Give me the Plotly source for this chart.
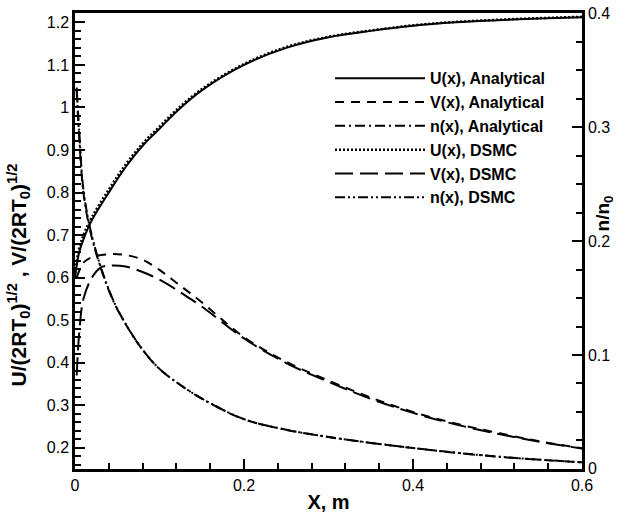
import plotly.graph_objects as go

# ---------------- data ----------------
x_U = [0.0, 0.005, 0.01, 0.02, 0.04, 0.06, 0.08, 0.10, 0.12, 0.15, 0.20, 0.25, 0.30, 0.35, 0.40, 0.45, 0.50, 0.55, 0.60]
U_an = [0.60, 0.66, 0.69, 0.735, 0.80, 0.86, 0.91, 0.95, 0.99, 1.04, 1.10, 1.14, 1.165, 1.18, 1.192, 1.200, 1.205, 1.209, 1.212]
U_ds = [0.61, 0.67, 0.70, 0.742, 0.807, 0.866, 0.915, 0.955, 0.994, 1.043, 1.102, 1.142, 1.166, 1.181, 1.193, 1.201, 1.206, 1.210, 1.213]

x_V_an = [0.002, 0.01, 0.02, 0.04, 0.06, 0.08, 0.10, 0.12, 0.15, 0.20, 0.25, 0.30, 0.35, 0.40, 0.45, 0.50, 0.55, 0.60]
V_an = [0.60, 0.635, 0.648, 0.655, 0.653, 0.642, 0.618, 0.588, 0.542, 0.46, 0.402, 0.358, 0.318, 0.284, 0.257, 0.235, 0.215, 0.199]
x_V_ds = [0.002, 0.005, 0.01, 0.02, 0.03, 0.04, 0.06, 0.08, 0.10, 0.132, 0.15, 0.20, 0.25, 0.30, 0.35, 0.40, 0.45, 0.50, 0.55, 0.60]
V_ds = [0.37, 0.47, 0.55, 0.60, 0.623, 0.628, 0.626, 0.613, 0.595, 0.556, 0.532, 0.457, 0.399, 0.355, 0.315, 0.282, 0.255, 0.233, 0.214, 0.198]

x_n = [0.002, 0.005, 0.01, 0.018, 0.03, 0.045, 0.06, 0.08, 0.10, 0.13, 0.16, 0.20, 0.25, 0.30, 0.35, 0.40, 0.45, 0.50, 0.55, 0.60]
n_an = [0.332, 0.291, 0.2425, 0.209, 0.1776, 0.148, 0.127, 0.1045, 0.0877, 0.0709, 0.0575, 0.0435, 0.0342, 0.0279, 0.0227, 0.0182, 0.0141, 0.0106, 0.0079, 0.0056]
n_ds = [0.335, 0.296, 0.245, 0.211, 0.1785, 0.1485, 0.1272, 0.1047, 0.0878, 0.0710, 0.0577, 0.0436, 0.0343, 0.0280, 0.0228, 0.0183, 0.0142, 0.0107, 0.0080, 0.0057]

x_ticks = [0, 0.2, 0.4, 0.6]
x_ticktext = ["0", "0.2", "0.4", "0.6"]
y_ticks = [0.2, 0.3, 0.4, 0.5, 0.6, 0.7, 0.8, 0.9, 1.0, 1.1, 1.2]
y_ticktext = ["0.2", "0.3", "0.4", "0.5", "0.6", "0.7", "0.8", "0.9", "1", "1.1", "1.2"]
y2_ticks = [0, 0.1, 0.2, 0.3, 0.4]
y2_ticktext = ["0", "0.1", "0.2", "0.3", "0.4"]

names = ["U(x), Analytical", "V(x), Analytical", "n(x), Analytical",
         "U(x), DSMC", "V(x), DSMC", "n(x), DSMC"]

# ---------------- figure ----------------
FONT = "Liberation Sans, Arial, Helvetica, sans-serif"
fig = go.Figure()
lw = 2
fig.add_trace(go.Scatter(x=x_U, y=U_an, mode="lines", name=names[0],
                         line=dict(color="black", width=lw, dash="solid", shape="spline")))
fig.add_trace(go.Scatter(x=x_V_an, y=V_an, mode="lines", name=names[1],
                         line=dict(color="black", width=lw, dash="9px,7px", shape="spline")))
fig.add_trace(go.Scatter(x=x_n, y=n_an, mode="lines", name=names[2], yaxis="y2",
                         line=dict(color="black", width=lw, dash="10px,4px,2px,4px", shape="spline")))
fig.add_trace(go.Scatter(x=x_U, y=U_ds, mode="lines", name=names[3],
                         line=dict(color="black", width=2.5, dash="2px,2px", shape="spline")))
fig.add_trace(go.Scatter(x=x_V_ds, y=V_ds, mode="lines", name=names[4],
                         line=dict(color="black", width=lw, dash="18px,7px", shape="spline")))
fig.add_trace(go.Scatter(x=x_n, y=n_ds, mode="lines", name=names[5], yaxis="y2",
                         line=dict(color="black", width=lw, dash="10px,3px,2px,3px,2px,3px", shape="spline")))

tickfont = dict(family=FONT, size=16, color="black")
fig.update_layout(
    width=618, height=518, autosize=False,
    margin=dict(l=75, r=36, t=5, b=49),
    paper_bgcolor="white", plot_bgcolor="white",
    font=dict(family=FONT, color="black"),
    xaxis=dict(range=[0, 0.6], tickvals=x_ticks, ticktext=x_ticktext,
               showgrid=False, zeroline=False, showline=True, linecolor="black", linewidth=2.5,
               mirror=True, ticks="inside", ticklen=10, tickwidth=2, tickcolor="black",
               minor=dict(ticks="inside", ticklen=6, tickwidth=1.5, tickcolor="black", dtick=0.04, tick0=0, showgrid=False),
               tickfont=tickfont,
               title=dict(text="<b>X, m</b>", font=dict(family=FONT, size=20, color="black"), standoff=3)),
    yaxis=dict(range=[0.15, 1.222], tickvals=y_ticks, ticktext=y_ticktext,
               showgrid=False, zeroline=False, showline=True, linecolor="black", linewidth=2.5,
               ticks="inside", ticklen=10, tickwidth=2, tickcolor="black",
               minor=dict(ticks="inside", ticklen=6, tickwidth=1.5, tickcolor="black", dtick=0.02, tick0=0, showgrid=False),
               tickfont=tickfont),
    yaxis2=dict(range=[-0.0002, 0.4005], overlaying="y", side="right", tickvals=y2_ticks, ticktext=y2_ticktext,
                showgrid=False, zeroline=False, showline=True, linecolor="black", linewidth=2.5,
                ticks="inside", ticklen=10, tickwidth=2, tickcolor="black",
                minor=dict(ticks="inside", ticklen=6, tickwidth=1.5, tickcolor="black", dtick=0.025, tick0=0, showgrid=False),
                tickfont=tickfont),
    showlegend=True,
    legend=dict(x=0.503, y=0.894, xanchor="left", yanchor="top", bgcolor="rgba(0,0,0,0)",
                borderwidth=0, font=dict(family=FONT, size=16, color="black", weight="bold"),
                tracegroupgap=0, itemwidth=90),
)

fig.add_annotation(text="<b>U/(2RT<sub>0</sub>)<sup>1/2</sup> , V/(2RT<sub>0</sub>)<sup>1/2</sup></b>",
                   xref="paper", yref="paper", x=-0.112, y=0.425, xanchor="center", yanchor="middle",
                   textangle=-90, showarrow=False, font=dict(family=FONT, size=21, color="black"))
fig.add_annotation(text="<b>n/n<sub>0</sub></b>",
                   xref="paper", yref="paper", x=1.043, y=0.56, xanchor="center", yanchor="middle",
                   textangle=-90, showarrow=False, font=dict(family=FONT, size=19, color="black"))

fig.write_html("out.html")
